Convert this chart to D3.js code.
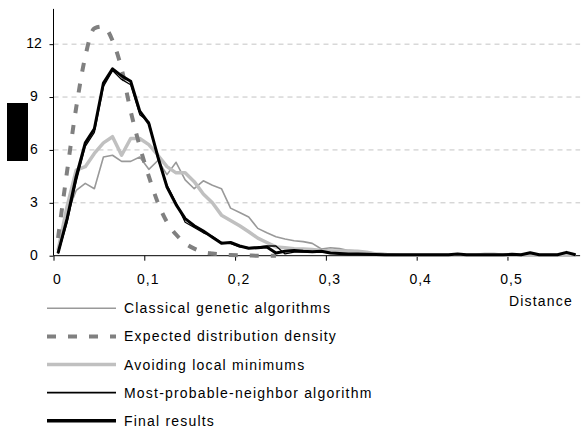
<!DOCTYPE html>
<html>
<head>
<meta charset="utf-8">
<script src="https://cdn.jsdelivr.net/npm/d3@7"></script>
<style>
  html, body { margin: 0; padding: 0; background: #fff; }
  svg { display: block; }
  text { font-family: "Liberation Sans", Arial, sans-serif; font-size: 14px; fill: #000; }
</style>
</head>
<body>
<svg id="chart" width="583" height="428"></svg>
<script>
const distance = [0.005,0.015,0.025,0.035,0.045,0.055,0.065,0.075,0.085,0.095,
  0.105,0.115,0.125,0.135,0.145,0.155,0.165,0.175,0.185,0.195,
  0.205,0.215,0.225,0.235,0.245,0.255,0.265,0.275,0.285,0.295,
  0.305,0.315,0.325,0.335,0.345,0.355,0.365,0.375,0.385,0.395,
  0.405,0.415,0.425,0.435,0.445,0.455,0.465,0.475,0.485,0.495,
  0.505,0.515,0.525,0.535,0.545,0.555,0.565,0.575];

const classical = [0.3,2.4,3.7,4.1,3.8,5.6,5.7,5.35,5.35,5.6,
  4.9,5.4,4.6,5.3,4.3,3.8,4.25,4.0,3.8,2.7,
  2.45,2.2,1.55,1.3,1.08,0.95,0.85,0.8,0.7,0.38,
  0.45,0.4,0.3,0.27,0.2,0.15,0.12,0.08,0.05,0.04,
  0.03,0.03,0.02,0.02,0.02,0.02,0.02,0.02,0.02,0.02,
  0.02,0.02,0.02,0.02,0.02,0.02,0.02,0.02];

const expected = [1.0,4.8,8.4,11.3,12.9,13.0,12.2,10.6,8.2,6.2,
  4.5,3.0,1.9,1.2,0.7,0.4,0.2,0.12,0.07,0.04,
  0.02,0.01,0,0,0];

const avoiding = [0.3,2.8,4.85,5.05,5.8,6.4,6.75,5.7,6.65,6.65,
  6.3,5.7,5.05,4.7,4.7,4.2,3.5,3.0,2.3,2.0,
  1.7,1.36,1.0,0.75,0.5,0.45,0.4,0.38,0.35,0.3,
  0.27,0.27,0.27,0.25,0.2,0.1,0.05,0.03,0.02,0.02,
  0.02,0.02,0.02,0.02,0.02,0.02,0.02,0.08,0.08,0.02,
  0.02,0.02,0.02,0.02,0.02,0.02,0.02,0.02];

const neighbor = [0.1,1.9,4.2,6.2,7.0,9.6,10.5,10.0,9.7,8.0,
  7.6,5.5,4.0,3.0,1.9,1.6,1.3,1.1,0.75,0.7,
  0.5,0.45,0.5,0.55,0.55,0.1,0.2,0.2,0.2,0.22,
  0.15,0.12,0.1,0.08,0.08,0.06,0.06,0.05,0.05,0.05,
  0.05,0.06,0.05,0.05,0.1,0.05,0.05,0.05,0.05,0.05,
  0.08,0.05,0.15,0.05,0.05,0.05,0.18,0.05];

const finalResults = [0.15,2.1,4.5,6.4,7.2,9.8,10.6,10.2,9.9,8.2,
  7.5,5.6,3.9,2.9,2.1,1.7,1.4,1.05,0.7,0.75,
  0.55,0.42,0.45,0.5,0.15,0.25,0.3,0.25,0.22,0.25,
  0.15,0.12,0.1,0.1,0.08,0.07,0.06,0.05,0.05,0.05,
  0.05,0.05,0.05,0.06,0.1,0.05,0.05,0.05,0.05,0.05,
  0.08,0.05,0.17,0.05,0.05,0.05,0.19,0.05];

const xTicks = [0, 0.1, 0.2, 0.3, 0.4, 0.5];
const xTickLabels = ["0", "0,1", "0,2", "0,3", "0,4", "0,5"];
const yTicks = [0, 3, 6, 9, 12];
const xTitle = "Distance";
const legendLabels = ["Classical genetic algorithms", "Expected distribution density",
  "Avoiding local minimums", "Most-probable-neighbor algorithm", "Final results"];

const svg = d3.select("#chart");
const x = d3.scaleLinear().domain([0, 0.58]).range([53.5, 580.1]);
const y = d3.scaleLinear().domain([0, 14]).range([255.7, 8.9]);
const FONT = "'Liberation Sans', Arial, sans-serif";

// gridlines
svg.append("g").selectAll("line").data(yTicks.filter(d => d > 0)).join("line")
  .attr("x1", x(0)).attr("x2", x(0.58))
  .attr("y1", d => y(d)).attr("y2", d => y(d))
  .attr("stroke", "#c4c4c4").attr("stroke-width", 1).attr("stroke-dasharray", "5,4");

// black box at left
svg.append("rect").attr("x", 7).attr("y", 103).attr("width", 21).attr("height", 58).attr("fill", "#000");

// axes
const yAxis = d3.axisLeft(y).tickValues(yTicks).tickSize(4).tickPadding(6).tickFormat(d3.format("d"));
const gy = svg.append("g").attr("transform", `translate(${x(0)},0)`).call(yAxis);
gy.select(".domain").attr("d", `M0,${y(14)}V${y(0)}`).attr("stroke", "#000");
gy.selectAll("text")
  .attr("x", 34 - x(0)).attr("text-anchor", "middle").attr("dy", "0.25em")
  .style("font-size", "14px").style("font-family", FONT);

const xAxis = d3.axisBottom(x).tickValues(xTicks).tickSize(5).tickPadding(13)
  .tickFormat((d, i) => xTickLabels[i]);
const gx = svg.append("g").attr("transform", `translate(0,${y(0)})`).call(xAxis);
gx.select(".domain").attr("d", `M${x(0)},0H${x(0.58)}`).attr("stroke", "#000");
gx.selectAll("text").attr("dx", 3.5).style("font-size", "14px").style("letter-spacing", "1px")
  .style("font-family", FONT);

svg.append("text").attr("x", 573).attr("y", 306).attr("text-anchor", "end")
  .style("letter-spacing", "1.2px").text(xTitle);

// series
const plot = svg.append("g");
const lineGen = d3.line().x((d, i) => x(distance[i])).y(d => y(d)).curve(d3.curveLinear);
const smooth = d3.line().x((d, i) => x(distance[i])).y(d => y(d)).curve(d3.curveMonotoneX);

const styles = [
  { data: classical, stroke: "#999999", width: 1.6, dash: null, gen: lineGen },
  { data: expected, stroke: "#808080", width: 4, dash: "9,12", gen: smooth },
  { data: avoiding, stroke: "#c0c0c0", width: 3.5, dash: null, gen: lineGen },
  { data: neighbor, stroke: "#000000", width: 1.3, dash: null, gen: lineGen },
  { data: finalResults, stroke: "#000000", width: 3, dash: null, gen: lineGen }
];
const drawOrder = [0, 2, 1, 3, 4];
drawOrder.forEach(k => {
  const s = styles[k];
  plot.append("path").datum(s.data)
    .attr("d", s.gen)
    .attr("fill", "none").attr("stroke", s.stroke).attr("stroke-width", s.width)
    .attr("stroke-linejoin", "round")
    .attr("stroke-dasharray", s.dash);
});

// legend
const legend = svg.append("g");
legendLabels.forEach((label, i) => {
  const s = styles[i];
  const cy = 308.3 + i * 28.1;
  legend.append("line").attr("x1", 47).attr("x2", 116).attr("y1", cy).attr("y2", cy)
    .attr("stroke", s.stroke).attr("stroke-width", i === 4 ? 3.5 : (i === 3 ? 1.6 : s.width))
    .attr("stroke-dasharray", s.dash);
  legend.append("text").attr("x", 124).attr("y", cy + 5)
    .style("letter-spacing", "1.2px").text(label);
});
</script>
</body>
</html>
